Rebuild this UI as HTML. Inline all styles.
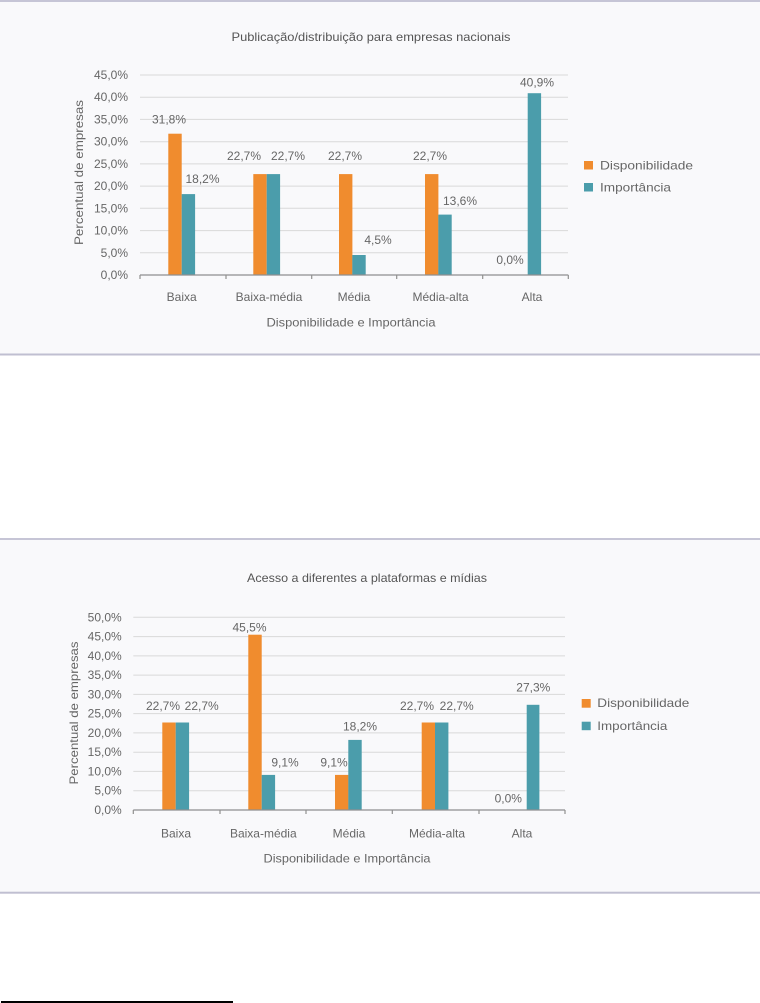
<!DOCTYPE html>
<html>
<head>
<meta charset="utf-8">
<style>
html,body{margin:0;padding:0;background:#fff;}
svg{display:block;}
text{font-family:"Liberation Sans",sans-serif;fill:#666;font-size:12px;}
</style>
</head>
<body>
<svg width="760" height="1003" viewBox="0 0 760 1003" xmlns="http://www.w3.org/2000/svg">
<!-- ===== Chart 1 box ===== -->
<rect x="0" y="1" width="760" height="353" fill="#f9f9fb"/>
<rect x="0" y="0" width="760" height="2" fill="#c6c5d6"/>
<rect x="0" y="353.5" width="760" height="2" fill="#c0bfd1"/>

<text x="371" y="41" text-anchor="middle" textLength="279" lengthAdjust="spacingAndGlyphs" style="fill:#555">Publicação/distribuição para empresas nacionais</text>

<!-- gridlines -->
<g stroke="#d9d9d9" stroke-width="1">
<line x1="140" y1="75" x2="568" y2="75"/>
<line x1="140" y1="97.2" x2="568" y2="97.2"/>
<line x1="140" y1="119.4" x2="568" y2="119.4"/>
<line x1="140" y1="141.7" x2="568" y2="141.7"/>
<line x1="140" y1="163.9" x2="568" y2="163.9"/>
<line x1="140" y1="186.1" x2="568" y2="186.1"/>
<line x1="140" y1="208.3" x2="568" y2="208.3"/>
<line x1="140" y1="230.6" x2="568" y2="230.6"/>
<line x1="140" y1="252.8" x2="568" y2="252.8"/>
</g>
<!-- y ticks labels -->
<g text-anchor="end">
<text x="128" y="79">45,0%</text>
<text x="128" y="101.2">40,0%</text>
<text x="128" y="123.4">35,0%</text>
<text x="128" y="145.7">30,0%</text>
<text x="128" y="167.9">25,0%</text>
<text x="128" y="190.1">20,0%</text>
<text x="128" y="212.3">15,0%</text>
<text x="128" y="234.6">10,0%</text>
<text x="128" y="256.8">5,0%</text>
<text x="128" y="279">0,0%</text>
</g>
<!-- bars -->
<g fill="#f08c2e">
<rect x="168.3" y="133.7" width="13.4" height="141.3"/>
<rect x="253.3" y="174.1" width="13.4" height="100.9"/>
<rect x="339" y="174.1" width="13.4" height="100.9"/>
<rect x="425" y="174.1" width="13.4" height="100.9"/>
</g>
<g fill="#4b9dab">
<rect x="181.7" y="194.1" width="13.4" height="80.9"/>
<rect x="266.7" y="174.1" width="13.4" height="100.9"/>
<rect x="352.3" y="255" width="13.4" height="20"/>
<rect x="438.3" y="214.6" width="13.4" height="60.4"/>
<rect x="527.7" y="93.2" width="13.4" height="181.8"/>
</g>
<!-- axis -->
<g stroke="#8f8f8f" stroke-width="1.2">
<line x1="140" y1="275" x2="568.3" y2="275"/>
<line x1="140" y1="275" x2="140" y2="279"/>
<line x1="226" y1="275" x2="226" y2="279"/>
<line x1="311.7" y1="275" x2="311.7" y2="279"/>
<line x1="396.7" y1="275" x2="396.7" y2="279"/>
<line x1="482.7" y1="275" x2="482.7" y2="279"/>
<line x1="568.3" y1="275" x2="568.3" y2="279"/>
</g>
<!-- data labels -->
<g text-anchor="middle">
<text x="169" y="123.3">31,8%</text>
<text x="202.5" y="183">18,2%</text>
<text x="244" y="160">22,7%</text>
<text x="288" y="160">22,7%</text>
<text x="345" y="160">22,7%</text>
<text x="378" y="244">4,5%</text>
<text x="430" y="160">22,7%</text>
<text x="460" y="205">13,6%</text>
<text x="510" y="264">0,0%</text>
<text x="537" y="86.3">40,9%</text>
</g>
<!-- x labels -->
<g text-anchor="middle">
<text x="181.7" y="301">Baixa</text>
<text x="269" y="301">Baixa-média</text>
<text x="354" y="301">Média</text>
<text x="440.5" y="301">Média-alta</text>
<text x="532" y="301">Alta</text>
<text x="351" y="326.7" textLength="169" lengthAdjust="spacingAndGlyphs">Disponibilidade e Importância</text>
</g>
<text transform="translate(83,172.5) rotate(-90)" text-anchor="middle" textLength="145" lengthAdjust="spacingAndGlyphs">Percentual de empresas</text>
<!-- legend -->
<rect x="584" y="161" width="9" height="8.5" fill="#f08c2e"/>
<rect x="584" y="183" width="9" height="8.5" fill="#4b9dab"/>
<text x="600" y="169.7" textLength="93" lengthAdjust="spacingAndGlyphs">Disponibilidade</text>
<text x="600" y="191.7" textLength="71" lengthAdjust="spacingAndGlyphs">Importância</text>

<!-- ===== Chart 2 box ===== -->
<rect x="0" y="539" width="760" height="353" fill="#f9f9fb"/>
<rect x="0" y="538" width="760" height="2" fill="#c6c5d6"/>
<rect x="0" y="891.7" width="760" height="2" fill="#c0bfd1"/>

<text x="367" y="582" text-anchor="middle" textLength="240" lengthAdjust="spacingAndGlyphs" style="fill:#555">Acesso a diferentes a plataformas e mídias</text>

<g stroke="#d9d9d9" stroke-width="1">
<line x1="133.3" y1="617.3" x2="565" y2="617.3"/>
<line x1="133.3" y1="636.6" x2="565" y2="636.6"/>
<line x1="133.3" y1="655.9" x2="565" y2="655.9"/>
<line x1="133.3" y1="675.1" x2="565" y2="675.1"/>
<line x1="133.3" y1="694.4" x2="565" y2="694.4"/>
<line x1="133.3" y1="713.6" x2="565" y2="713.6"/>
<line x1="133.3" y1="732.9" x2="565" y2="732.9"/>
<line x1="133.3" y1="752.2" x2="565" y2="752.2"/>
<line x1="133.3" y1="771.4" x2="565" y2="771.4"/>
<line x1="133.3" y1="790.7" x2="565" y2="790.7"/>
</g>
<g text-anchor="end">
<text x="121.7" y="621.3">50,0%</text>
<text x="121.7" y="640.6">45,0%</text>
<text x="121.7" y="659.9">40,0%</text>
<text x="121.7" y="679.1">35,0%</text>
<text x="121.7" y="698.4">30,0%</text>
<text x="121.7" y="717.6">25,0%</text>
<text x="121.7" y="736.9">20,0%</text>
<text x="121.7" y="756.2">15,0%</text>
<text x="121.7" y="775.4">10,0%</text>
<text x="121.7" y="794.7">5,0%</text>
<text x="121.7" y="814">0,0%</text>
</g>
<g fill="#f08c2e">
<rect x="162.3" y="722.5" width="13.4" height="87.5"/>
<rect x="248.3" y="634.7" width="13.4" height="175.3"/>
<rect x="335" y="774.9" width="13.4" height="35.1"/>
<rect x="421.7" y="722.5" width="13.4" height="87.5"/>
</g>
<g fill="#4b9dab">
<rect x="175.7" y="722.5" width="13.4" height="87.5"/>
<rect x="261.7" y="774.9" width="13.4" height="35.1"/>
<rect x="348.3" y="739.9" width="13.4" height="70.1"/>
<rect x="435" y="722.5" width="13.4" height="87.5"/>
<rect x="526.7" y="704.8" width="12.7" height="105.2"/>
</g>
<g stroke="#8f8f8f" stroke-width="1.2">
<line x1="133.3" y1="810" x2="565" y2="810"/>
<line x1="133.3" y1="810" x2="133.3" y2="814"/>
<line x1="220" y1="810" x2="220" y2="814"/>
<line x1="306" y1="810" x2="306" y2="814"/>
<line x1="392.3" y1="810" x2="392.3" y2="814"/>
<line x1="479" y1="810" x2="479" y2="814"/>
<line x1="565" y1="810" x2="565" y2="814"/>
</g>
<g text-anchor="middle">
<text x="163" y="710">22,7%</text>
<text x="201.7" y="710">22,7%</text>
<text x="249.5" y="631.3">45,5%</text>
<text x="285" y="766.3">9,1%</text>
<text x="334" y="766.3">9,1%</text>
<text x="360" y="730.7">18,2%</text>
<text x="417" y="710">22,7%</text>
<text x="456.7" y="710">22,7%</text>
<text x="508.3" y="802.3">0,0%</text>
<text x="533.3" y="691.7">27,3%</text>
</g>
<g text-anchor="middle">
<text x="176" y="837.3">Baixa</text>
<text x="263.3" y="837.3">Baixa-média</text>
<text x="349" y="837.3">Média</text>
<text x="437" y="837.3">Média-alta</text>
<text x="522" y="837.3">Alta</text>
<text x="347" y="862.3" textLength="167" lengthAdjust="spacingAndGlyphs">Disponibilidade e Importância</text>
</g>
<text transform="translate(78,713) rotate(-90)" text-anchor="middle" textLength="143" lengthAdjust="spacingAndGlyphs">Percentual de empresas</text>
<rect x="581.7" y="699" width="9" height="8.7" fill="#f08c2e"/>
<rect x="581.7" y="721.7" width="9" height="8.5" fill="#4b9dab"/>
<text x="597.3" y="707" textLength="92" lengthAdjust="spacingAndGlyphs">Disponibilidade</text>
<text x="597.3" y="730" textLength="70" lengthAdjust="spacingAndGlyphs">Importância</text>

<!-- footnote rule -->
<rect x="1" y="1001" width="232" height="2" fill="#000"/>
</svg>
</body>
</html>
